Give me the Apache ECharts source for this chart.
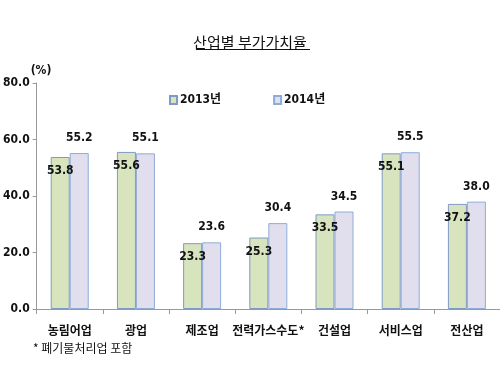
<!DOCTYPE html>
<html><head><meta charset="utf-8">
<script src="https://cdn.jsdelivr.net/npm/echarts@6/dist/echarts.min.js"></script>
<style>html,body{margin:0;padding:0;background:#fff}#c{width:500px;height:371px}</style>
</head><body><div id="c"></div>
<script>
const categories = ['농림어업', '광업', '제조업', '전력가스수도*', '건설업', '서비스업', '전산업'];
const values2013 = [53.8, 55.6, 23.3, 25.3, 33.5, 55.1, 37.2];
const values2014 = [55.2, 55.1, 23.6, 30.4, 34.5, 55.5, 38.0];
const seriesNames = ['2013년', '2014년'];
const yTicks = { min: 0, max: 80, interval: 20 };

const NARROW = '"Liberation Sans Narrow","DejaVu Sans Condensed","Noto Sans CJK KR",sans-serif';
const KR = '"Noto Sans CJK KR","Noto Sans",sans-serif';
const chart = echarts.init(document.getElementById('c'), null, {renderer: 'canvas'});
chart.setOption({
  animation: false,
  backgroundColor: '#fff',
  title: {
    text: '산업별 부가가치율', left: 'center', top: 30,
    textStyle: {fontFamily: KR, fontSize: 15, fontWeight: 'normal', color: '#111'}
  },
  graphic: [
    {type: 'line', shape: {x1: 196, y1: 49.5, x2: 310, y2: 49.5}, style: {stroke: '#111', lineWidth: 1}},
    {type: 'text', left: 33, top: 342, style: {text: '* 폐기물처리업 포함', font: '12px ' + KR, fill: '#111'}}
  ],
  legend: {
    data: seriesNames, left: 164, top: 89, itemGap: 52, itemWidth: 7, itemHeight: 8,
    icon: 'rect',
    textStyle: {fontFamily: NARROW, fontSize: 12, fontWeight: 'bold', color: '#111', padding: [0,0,0,-2]}
  },
  grid: {left: 33, right: 0, top: 83, bottom: 62, containLabel: false},
  xAxis: {
    type: 'category', data: categories,
    axisLine: {lineStyle: {color: '#999'}},
    axisTick: {show: true, length: 5, lineStyle: {color: '#999'}},
    axisLabel: {fontFamily: KR, fontSize: 12, fontWeight: 'bold', color: '#111', margin: 15, interval: 0}
  },
  yAxis: {
    type: 'value', min: yTicks.min, max: yTicks.max, interval: yTicks.interval,
    name: '(%)', nameLocation: 'end', nameGap: 4,
    nameTextStyle: {fontFamily: NARROW, fontSize: 12, fontWeight: 'bold', color: '#111', align: 'left', padding: [0,0,0,-6]},
    splitLine: {show: false},
    axisLine: {show: true, lineStyle: {color: '#999'}},
    axisTick: {show: true, length: 4, lineStyle: {color: '#999'}},
    axisLabel: {fontFamily: NARROW, fontSize: 12, fontWeight: 'bold', color: '#111', margin: 7,
      formatter: v => v.toFixed(1)}
  },
  series: [
    {
      name: seriesNames[0], type: 'bar', data: values2013, barWidth: 19, barGap: '0%',
      itemStyle: {color: '#d7e4bd', borderColor: '#7f9ac4', borderWidth: 1},
      label: {show: true, position: 'insideTop', offset: [0, 3], formatter: p => p.value.toFixed(1),
        fontFamily: NARROW, fontSize: 12, fontWeight: 'bold', color: '#111'}
    },
    {
      name: seriesNames[1], type: 'bar', data: values2014, barWidth: 19,
      itemStyle: {color: '#e1deee', borderColor: '#8eacd8', borderWidth: 1},
      label: {show: true, position: 'top', distance: 9, formatter: p => p.value.toFixed(1),
        fontFamily: NARROW, fontSize: 12, fontWeight: 'bold', color: '#111'}
    }
  ]
});
</script></body></html>
